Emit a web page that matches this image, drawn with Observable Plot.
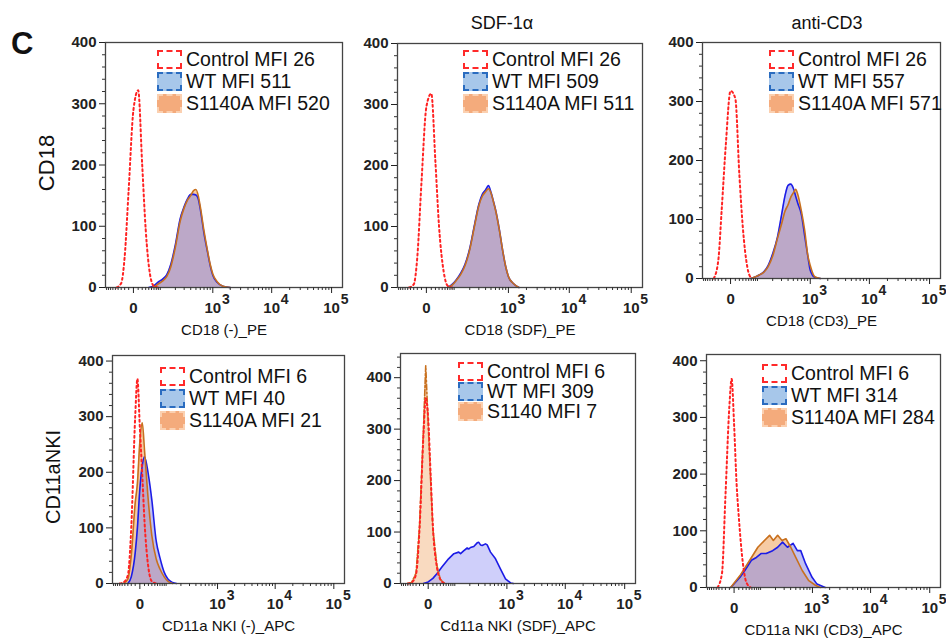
<!DOCTYPE html>
<html><head><meta charset="utf-8">
<script src="https://cdn.jsdelivr.net/npm/d3@7"></script>
<script src="https://cdn.jsdelivr.net/npm/@observablehq/plot@0.6"></script>
<style>
body{margin:0;background:#fff;}
#fig{position:relative;width:946px;height:641px;overflow:hidden;font-family:"Liberation Sans",Arial,sans-serif;color:#111;background:#fff;}
.abs{position:absolute;white-space:nowrap;}
.legend{position:absolute;font-size:19.5px;color:#111;}
.legend .row{display:flex;align-items:center;white-space:nowrap;}
.sw{width:25px;height:19px;margin-right:4px;box-sizing:border-box;border:2px dashed;}
.panel{position:absolute;}
</style></head><body><div id="fig"></div><script>
// ---------- data ----------
const SERIES = ["Control", "WT", "S1140A"];
const X_MAJOR = [0, 1000, 10000, 100000];
const X_MINOR = [-90,-80,-70,-60,-50,-40,-30,-20,-10,10,20,30,40,50,60,70,80,90,
  200,300,400,500,600,700,800,900,2000,3000,4000,5000,6000,7000,8000,9000,
  20000,30000,40000,50000,60000,70000,80000,90000];
const Y_MAJOR = [0, 100, 200, 300, 400];
const Y_MINOR = [20,40,60,80,120,140,160,180,220,240,260,280,320,340,360,380,420,440];

const COL_TITLES = ["SDF-1\u03b1", "anti-CD3"];
const ROW_TITLES = ["CD18", "CD11aNKI"];
const X_LABELS = ["CD18 (-)_PE", "CD18 (SDF)_PE", "CD18 (CD3)_PE",
  "CD11a NKI (-)_APC", "Cd11a NKI (SDF)_APC", "CD11a NKI (CD3)_APC"];
const LEGENDS = [
  ["Control MFI 26", "WT MFI 511", "S1140A MFI 520"],
  ["Control MFI 26", "WT MFI 509", "S1140A MFI 511"],
  ["Control MFI 26", "WT MFI 557", "S1140A MFI 571"],
  ["Control MFI 6", "WT MFI 40", "S1140A MFI 21"],
  ["Control MFI 6", "WT MFI 309", "S1140 MFI 7"],
  ["Control MFI 6", "WT MFI 314", "S1140A MFI 284"]
];

// Panel 1: CD18 (-)
const P1_CTRL_X = [-45,-30,-20,-10,0,10,20,30,45,60,80];
const P1_CTRL_Y = [0,7,50,160,290,322,200,95,20,2,0];
const P1_WT_X = [40,60,80,100,130,160,200,250,300,350,400,450,500,550,600,700,800,900,1000,1200,1500,2000];
const P1_WT_Y = [0,3,9,13,21,38,70,112,132,145,152,152,151,145,128,88,60,36,20,8,2,0];
const P1_MUT_X = [50,60,80,100,130,160,200,250,300,350,400,450,500,550,600,700,800,900,1000,1200,1500,2000];
const P1_MUT_Y = [0,1,6,10,18,34,66,108,130,143,150,158,160,150,132,92,62,38,22,9,2,0];

// Panel 2: CD18 (SDF)
const P2_CTRL_X = [-45,-30,-20,-10,0,10,20,30,45,60,80];
const P2_CTRL_Y = [0,5,50,172,296,318,205,100,26,3,0];
const P2_WT_X = [60,80,100,130,160,200,250,300,350,400,450,500,550,600,700,800,900,1000,1200,1500];
const P2_WT_Y = [0,5,12,24,38,64,104,136,153,160,167,156,142,128,95,60,34,18,7,0];
const P2_MUT_X = [60,80,100,130,160,200,250,300,350,400,450,500,550,600,700,800,900,1000,1200,1500];
const P2_MUT_Y = [0,4,11,22,36,62,102,134,150,157,162,155,141,127,94,60,34,18,7,0];

// Panel 3: CD18 (CD3)
const P3_CTRL_X = [-45,-30,-20,-10,0,10,20,30,45,60];
const P3_CTRL_Y = [0,30,118,226,318,305,176,86,19,0];
const P3_WT_X = [60,80,100,130,160,200,250,300,350,400,450,500,550,600,700,800,900,1000,1200,1500];
const P3_WT_Y = [0,3,6,12,22,42,70,107,140,158,160,153,140,128,108,72,40,14,2,0];
const P3_MUT_X = [60,80,100,130,160,200,250,300,350,400,450,500,550,600,700,800,900,1000,1200,1500];
const P3_MUT_Y = [0,3,6,11,20,38,68,92,114,125,138,145,151,143,114,81,41,22,3,0];

// Panel 4: CD11a NKI (-)
const P4_CTRL_X = [-60,-45,-30,-20,-10,-5,0,5,10,20,30,45];
const P4_CTRL_Y = [0,2,15,100,300,368,280,195,112,28,4,0];
const P4_WT_X = [-30,-20,-10,-5,0,5,10,20,30,45,60,80,100,130,160];
const P4_WT_Y = [0,12,55,100,170,212,228,195,150,76,46,20,8,2,0];
const P4_MUT_X = [-45,-30,-20,-10,-5,0,5,10,20,30,45,60,80,100,130];
const P4_MUT_Y = [0,8,50,145,180,255,289,240,146,86,44,26,12,4,0];

// Panel 5: CD11a NKI (SDF)
const P5_CTRL_X = [-60,-45,-30,-20,-10,-5,0,5,10,20,30,45];
const P5_CTRL_Y = [0,2,18,105,290,360,320,210,110,32,8,0];
const P5_WT_X = [-10,0,10,20,35,60,85,113,125,149,176,191,207,242,283,304,328,354,409,440,507,626,771,945,1160,1300];
const P5_WT_Y = [0,3,10,19,32,48,58,61,58,64,69,67,70,72,79,80,75,74,77,75,61,48,28,9,1,0];
const P5_MUT_X = [-60,-45,-30,-20,-10,-5,0,5,10,20,30,45];
const P5_MUT_Y = [0,2,20,110,300,423,310,200,105,35,8,0];

// Panel 6: CD11a NKI (CD3)
const P6_CTRL_X = [-45,-30,-20,-10,-5,0,5,10,20,30,45];
const P6_CTRL_Y = [0,25,160,320,368,288,185,125,45,10,0];
const P6_WT_X = [-7,13,26,48,69,94,124,174,222,279,348,445,534,616,754,985,1203,1677];
const P6_WT_Y = [0,18,30,48,53,60,60,65,71,80,71,78,65,65,42,18,6,0];
const P6_MUT_X = [-7,13,42,76,113,149,180,222,272,325,403,499,656,862,1129,1377];
const P6_MUT_Y = [0,21,48,71,83,92,83,92,83,86,71,53,30,12,4,0];

// ---------- styles / layout ----------
const X_DOMAIN = [-96, 152000];
const CTRL_LINE = "#ff2222", WT_LINE = "#1c1ce6", MUT_LINE = "#c8701e";
const WT_FILL = "#8c8ce6", MUT_FILL = "#f0a868";
const SW_FILL = ["#ffffff", "#a7c7ea", "#f4ab7c"];
const SW_BORDER = ["#ff2a2a", "#2a6cc0", "#fbd0b0"];
const FONT = "Liberation Sans, Arial, sans-serif";

const rows = (xs, ys) => xs.map((x, i) => ({x, y: ys[i]}));
const PANELS = [
  {fl:105, ft:42, fw:237, fh:245, yMax:400, ctrl:[P1_CTRL_X,P1_CTRL_Y], wt:[P1_WT_X,P1_WT_Y], mut:[P1_MUT_X,P1_MUT_Y], lg:[157,48,22], curve:"monotone-x"},
  {fl:397, ft:43, fw:245, fh:244, yMax:400, ctrl:[P2_CTRL_X,P2_CTRL_Y], wt:[P2_WT_X,P2_WT_Y], mut:[P2_MUT_X,P2_MUT_Y], lg:[463,48,22], curve:"monotone-x"},
  {fl:702, ft:42, fw:238, fh:236, yMax:400, ctrl:[P3_CTRL_X,P3_CTRL_Y], wt:[P3_WT_X,P3_WT_Y], mut:[P3_MUT_X,P3_MUT_Y], lg:[769,48,22], curve:"monotone-x"},
  {fl:112, ft:355, fw:232, fh:228, yMax:410, ctrl:[P4_CTRL_X,P4_CTRL_Y], wt:[P4_WT_X,P4_WT_Y], mut:[P4_MUT_X,P4_MUT_Y], lg:[160,365,22], curve:"monotone-x"},
  {fl:400, ft:353, fw:235, fh:230, yMax:447, ctrl:[P5_CTRL_X,P5_CTRL_Y], wt:[P5_WT_X,P5_WT_Y], mut:[P5_MUT_X,P5_MUT_Y], lg:[458,361,20], curve:"linear", mutDash:"6,2,2,2", mutFillOpacity:0.42, wtFill:"#a8a8f5"},
  {fl:706, ft:354, fw:234, fh:233, yMax:411, ctrl:[P6_CTRL_X,P6_CTRL_Y], wt:[P6_WT_X,P6_WT_Y], mut:[P6_MUT_X,P6_MUT_Y], lg:[762,362,22], curve:"linear"}
];

const fig = document.getElementById("fig");
function addText(txt, css) {
  const d = document.createElement("div");
  d.className = "abs"; d.textContent = txt;
  Object.assign(d.style, css);
  fig.appendChild(d);
}

PANELS.forEach((p, i) => {
  const mL = 52, mR = 4, mT = 4, mB = 58;
  const ctrl = rows(...p.ctrl), wt = rows(...p.wt), mut = rows(...p.mut);
  const chart = Plot.plot({
    width: p.fw + mL + mR, height: p.fh + mT + mB,
    marginLeft: mL, marginRight: mR, marginTop: mT, marginBottom: mB,
    style: {fontFamily: FONT, background: "transparent", overflow: "visible", color: "#222"},
    x: {type: "symlog", constant: 50, domain: X_DOMAIN},
    y: {domain: [0, p.yMax]},
    marks: [
      Plot.areaY(mut, {x: "x", y: "y", fill: MUT_FILL, fillOpacity: p.mutFillOpacity ?? 0.6, curve: p.curve}),
      Plot.areaY(wt, {x: "x", y: "y", fill: p.wtFill ?? WT_FILL, fillOpacity: 0.55, curve: p.curve}),
      Plot.lineY(wt, {x: "x", y: "y", stroke: WT_LINE, strokeWidth: 1.6, curve: p.curve}),
      Plot.lineY(mut, {x: "x", y: "y", stroke: MUT_LINE, strokeWidth: 1.6, strokeDasharray: p.mutDash ?? null, curve: p.curve}),
      Plot.lineY(ctrl, {x: "x", y: "y", stroke: CTRL_LINE, strokeWidth: 2, strokeDasharray: "2,3", curve: "monotone-x"}),
      Plot.frame({stroke: "#444", strokeWidth: 1.3}),
      Plot.axisY(Y_MINOR.filter(v => v <= p.yMax), {tickSize: 3, tickFormat: () => "", label: null, stroke: "#333"}),
      Plot.axisY(Y_MAJOR, {tickSize: 6, tickPadding: 3, label: null, fontSize: 15, fontWeight: "bold", stroke: "#222", fill: "#222"}),
      Plot.axisX(X_MINOR, {tickSize: 3, tickFormat: () => "", label: null, stroke: "#333"}),
      Plot.axisX(X_MAJOR, {tickSize: 6, tickFormat: () => "", label: null, stroke: "#222"}),
      Plot.text(X_MAJOR, {x: d => d, text: d => d === 0 ? "0" : "10", frameAnchor: "bottom", dy: 25, fontSize: 15, fontWeight: "bold", fill: "#222"}),
      Plot.text(X_MAJOR.filter(d => d > 0), {x: d => d, text: d => String(Math.round(Math.log10(d))), frameAnchor: "bottom", dx: 13, dy: 16, fontSize: 14, fontWeight: "bold", fill: "#222"}),
      Plot.text([X_LABELS[i]], {text: d => d, frameAnchor: "bottom", dy: 47, fontSize: 15, fill: "#111"})
    ]
  });
  chart.classList.add("panel");
  chart.style.left = (p.fl - mL) + "px";
  chart.style.top = (p.ft - mT) + "px";
  fig.appendChild(chart);

  // legend
  const lg = document.createElement("div");
  lg.className = "legend";
  lg.style.left = p.lg[0] + "px"; lg.style.top = p.lg[1] + "px";
  LEGENDS[i].forEach((t, k) => {
    const r = document.createElement("div");
    r.className = "row"; r.style.height = p.lg[2] + "px";
    const s = document.createElement("div");
    s.className = "sw"; s.style.background = SW_FILL[k]; s.style.borderColor = SW_BORDER[k];
    r.appendChild(s);
    const tx = document.createElement("span"); tx.textContent = t;
    r.appendChild(tx);
    lg.appendChild(r);
  });
  fig.appendChild(lg);
});

addText("C", {left: "11px", top: "26px", fontSize: "31px", fontWeight: "bold"});
addText(COL_TITLES[0], {left: "502px", top: "23px", fontSize: "18px", transform: "translate(-50%,-50%)"});
addText(COL_TITLES[1], {left: "827px", top: "23px", fontSize: "18px", transform: "translate(-50%,-50%)"});
addText(ROW_TITLES[0], {left: "47px", top: "163px", fontSize: "22px", transform: "translate(-50%,-50%) rotate(-90deg)"});
addText(ROW_TITLES[1], {left: "53px", top: "477px", fontSize: "20px", transform: "translate(-50%,-50%) rotate(-90deg)"});
</script></body></html>
